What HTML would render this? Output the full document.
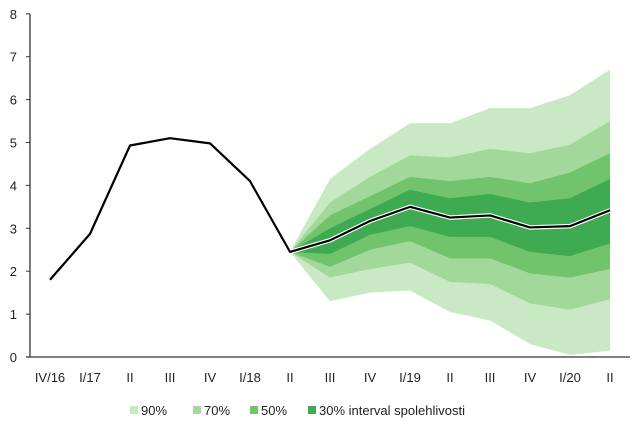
<!DOCTYPE html>
<html><head><meta charset="utf-8"><style>
body{margin:0;background:#fff;}
svg{display:block;font-family:"Liberation Sans",sans-serif;}
</style></head><body>
<svg id="chart" width="640" height="430"></svg>
<script>
const categories=["IV/16","I/17","II","III","IV","I/18","II","III","IV","I/19","II","III","IV","I/20","II"];
const lineValues=[1.8,2.87,4.93,5.1,4.98,4.1,2.45,2.72,3.17,3.5,3.25,3.3,3.02,3.05,3.42];
const fanStart=6;
const up90=[2.45,4.15,4.85,5.45,5.45,5.8,5.8,6.1,6.7];
const lo90=[2.45,1.3,1.5,1.55,1.05,0.85,0.3,0.05,0.15];
const up70=[2.45,3.6,4.2,4.7,4.65,4.85,4.75,4.95,5.5];
const lo70=[2.45,1.85,2.05,2.2,1.75,1.7,1.25,1.1,1.35];
const up50=[2.45,3.3,3.75,4.2,4.1,4.2,4.05,4.3,4.75];
const lo50=[2.45,2.1,2.5,2.7,2.3,2.3,1.95,1.85,2.05];
const up30=[2.45,3.0,3.45,3.9,3.7,3.8,3.6,3.7,4.15];
const lo30=[2.45,2.4,2.85,3.05,2.8,2.8,2.45,2.35,2.65];
const yTicks=[0,1,2,3,4,5,6,7,8];
const legendLabels=["90%","70%","50%","30% interval spolehlivosti"];
const colors=["#c9e9c4","#a2d99b","#72c46c","#3eaa52"];
const NS="http://www.w3.org/2000/svg";
const svg=document.getElementById("chart");
const X=i=>50+i*40, Y=v=>357-v*42.9;
function mk(t,a,p){const e=document.createElementNS(NS,t);for(const k in a)e.setAttribute(k,a[k]);(p||svg).appendChild(e);return e;}
const bands=[[up90,lo90],[up70,lo70],[up50,lo50],[up30,lo30]];
const bandNames=["band-90","band-70","band-50","band-30"];
bands.forEach((b,k)=>{
  let pts=b[0].map((v,i)=>X(fanStart+i)+","+Y(v));
  pts=pts.concat(b[1].map((v,i)=>X(fanStart+i)+","+Y(v)).reverse());
  const p=mk("polygon",{points:pts.join(" "),fill:colors[k]});
  
  
});
const ya=mk("line",{x1:30,y1:14,x2:30,y2:357,stroke:"#333","stroke-width":1.3});


const xa=mk("line",{x1:26,y1:357,x2:630,y2:357,stroke:"#333","stroke-width":1.3});


yTicks.forEach(v=>{
  mk("line",{x1:26,y1:Y(v),x2:30,y2:Y(v),stroke:"#333"});
  const t=mk("text",{x:17,y:Y(v)+5,"text-anchor":"end","font-size":13,fill:"#222"});
  t.textContent=v;
  
  
});
categories.forEach((c,i)=>{
  const t=mk("text",{x:X(i),y:382,"text-anchor":"middle","font-size":13,fill:"#222"});
  t.textContent=c;
  
  
});
const pl=mk("polyline",{points:lineValues.map((v,i)=>X(i)+","+Y(v)).join(" "),fill:"none",stroke:"#fff","stroke-width":4.5,"stroke-linejoin":"round"});


const ln=mk("polyline",{points:lineValues.map((v,i)=>X(i)+","+Y(v)).join(" "),fill:"none",stroke:"#000","stroke-width":2.2,"stroke-linejoin":"round"});


const lx=[130,193,250,308];
legendLabels.forEach((l,k)=>{
  const g=mk("g",{});
  
  
  mk("rect",{x:lx[k],y:406,width:8,height:8,fill:colors[k]},g);
  const t=mk("text",{x:lx[k]+11,y:415,"font-size":13,fill:"#222"},g);
  t.textContent=l;
});
</script>
</body></html>
